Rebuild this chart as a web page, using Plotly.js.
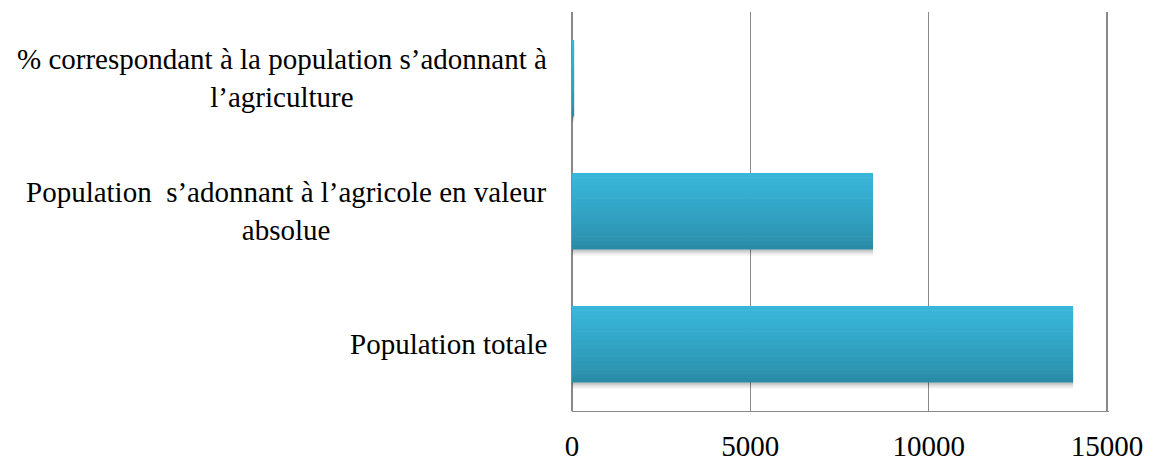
<!DOCTYPE html>
<html>
<head>
<meta charset="utf-8">
<script src="https://cdn.plot.ly/plotly-3.0.1.min.js"></script>
<style>html,body{margin:0;padding:0;background:#fff;}</style>
</head>
<body>
<div id="chart" style="width:1155px;height:461px;"></div>
<script>
// Data (bottom to top, as in the reference)
const categories = [
  "Population totale",
  "Population s’adonnant à l’agricole en valeur absolue",
  "% correspondant à la population s’adonnant à l’agriculture"
];
const categoryLabels = [
  "Population totale",
  "Population\u00A0 s’adonnant à l’agricole en valeur<br>absolue",
  "% correspondant à la population s’adonnant à<br>l’agriculture"
];
const values = [14050, 8440, 60];
const xTickValues = [0, 5000, 10000, 15000];
const xTickLabels = ["0", "5000", "10000", "15000"];

// Style
const barWidth = 0.57;
const topColor = [56, 182, 218];
const bottomColor = [42, 139, 166];
const slices = 18;
const fontFamily = "Liberation Serif, Times New Roman, serif";

const traces = [];
// soft shadow under each bar
[[0.045, 0.06], [0.03, 0.08], [0.015, 0.10]].forEach(([shift, alpha]) => {
  traces.push({
    type: "bar", orientation: "h", y: categories, x: values,
    width: barWidth, offset: -barWidth / 2 - shift,
    marker: {color: "rgba(0,0,0," + alpha + ")", line: {width: 0}},
    hoverinfo: "skip", showlegend: false
  });
});
// vertical gradient built from thin slices of the same bars
const sliceW = barWidth / slices;
for (let i = 0; i < slices; i++) {
  const t = i / (slices - 1); // 0 bottom, 1 top
  const c = bottomColor.map((b, k) => Math.round(b + (topColor[k] - b) * Math.pow(t, 0.8)));
  traces.push({
    type: "bar", orientation: "h", y: categories, x: values,
    width: sliceW * 1.15, offset: -barWidth / 2 + i * sliceW,
    marker: {color: "rgb(" + c.join(",") + ")", line: {width: 0}},
    hoverinfo: "skip", showlegend: false
  });
}

const annotations = categories.map((cat, i) => ({
  xref: "paper", yref: "y", x: 0, y: cat, xshift: -23, yshift: 1,
  xanchor: "right", yanchor: "middle", align: "center",
  text: categoryLabels[i], showarrow: false,
  font: {family: fontFamily, size: 29, color: "#000"}
}));

const layout = {
  width: 1155, height: 461,
  margin: {l: 572, r: 46, t: 12, b: 50, pad: 0},
  paper_bgcolor: "#fff", plot_bgcolor: "#fff",
  barmode: "overlay",
  showlegend: false,
  font: {family: fontFamily, size: 29, color: "#000"},
  xaxis: {
    range: [0, 15056], tickvals: xTickValues, ticktext: xTickLabels,
    showgrid: true, gridcolor: "#898989", gridwidth: 1.3,
    zeroline: true, zerolinecolor: "#898989", zerolinewidth: 1.3,
    showline: true, linecolor: "#898989", linewidth: 1.3,
    ticks: "", fixedrange: true, ticklabelstandoff: 9,
    tickfont: {family: fontFamily, size: 29, color: "#000"}
  },
  yaxis: {
    type: "category", categoryorder: "array", categoryarray: categories,
    range: [-0.5, 2.5], showticklabels: false, showgrid: false,
    zeroline: false, showline: false, ticks: "", fixedrange: true
  },
  annotations: annotations
};

Plotly.newPlot("chart", traces, layout, {displayModeBar: false, staticPlot: true});
</script>
</body>
</html>
